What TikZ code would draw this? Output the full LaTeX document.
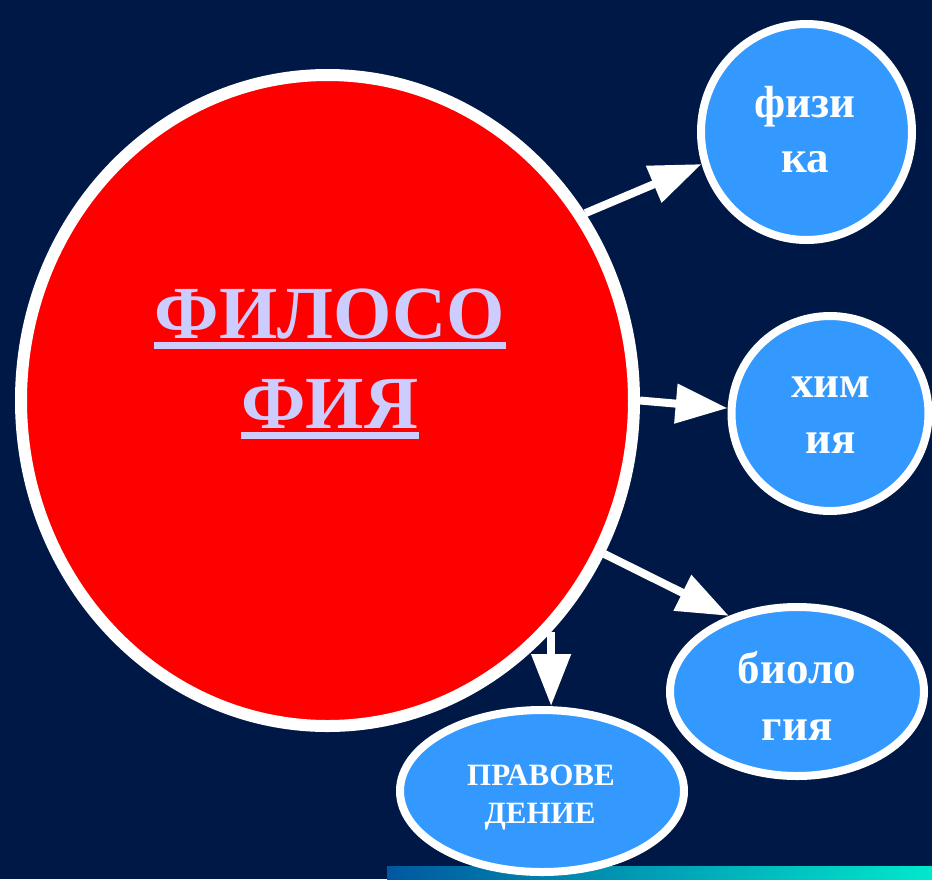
\documentclass[tikz,border=0pt]{standalone}
\usepackage{fontspec}
\setmainfont{Liberation Serif}
\usetikzlibrary{shapes.geometric,arrows.meta}
\definecolor{bg}{RGB}{0,24,69}
\definecolor{redfill}{RGB}{255,0,0}
\definecolor{bluefill}{RGB}{51,153,255}
\definecolor{lav}{RGB}{204,204,255}
\definecolor{barL}{RGB}{0,88,160}
\definecolor{barR}{RGB}{0,232,204}
\newcommand\myul[1]{\setbox0\hbox{#1}\rlap{\hspace{-1pt}\color{lav}\rule[-11pt]{\dimexpr\wd0+2pt}{7pt}}\box0}
\tikzset{
  big/.style={ellipse, fill=redfill, draw=white, line width=12pt, inner sep=0pt, minimum width=613pt, minimum height=651pt},
  small/.style={ellipse, fill=bluefill, draw=white, line width=8pt, inner sep=0pt},
  bigtext/.style={anchor=base, inner sep=0pt, text=lav, font=\fontsize{75}{80}\selectfont\bfseries},
  smalltext/.style={anchor=base, inner sep=0pt, text=white, font=\fontsize{45}{50}\selectfont\bfseries},
  lawtext/.style={anchor=base, inner sep=0pt, text=white, font=\fontsize{31}{34}\selectfont\bfseries},
  arr/.style={draw=white, line width=8pt, -{Triangle[length=52pt,width=38pt]}}
}
\begin{document}
\begin{tikzpicture}[x=1pt,y=-1pt]
\fill[bg] (0,0) rectangle (932,879);
\useasboundingbox (0,0) rectangle (932,879);
\shade[left color=barL, right color=barR] (387,866) rectangle (932,879);
\node[big] (main) at (327.5,400.5) {};
\node[small, minimum width=211pt, minimum height=216pt] (phys) at (806.5,132) {};
\node[small, minimum width=197pt, minimum height=195pt] (chem) at (830,413.5) {};
\node[small, minimum width=254pt, minimum height=169pt] (bio) at (797,691.5) {};
\node[small, minimum width=284pt, minimum height=162pt] (law) at (542,791) {};
\node[bigtext] (t1) at (330,338) {\myul{ФИЛОСО}};
\node[bigtext] (t2) at (330,428) {\myul{ФИЯ}};
\node[smalltext] (p1) at (805,117) {физи};
\node[smalltext] (p2) at (805,172) {ка};
\node[smalltext] (c1) at (831,397) {хим};
\node[smalltext] (c2) at (831,453) {ия};
\node[smalltext] (b1) at (797,683) {биоло};
\node[smalltext] (b2) at (797,740) {гия};
\node[lawtext] (l1) at (541,785) {ПРАВОВЕ};
\node[lawtext] (l2) at (540,823) {ДЕНИЕ};
\draw[arr] (main.36.3) -- (phys.197);
\draw[arr] (main.0.7) -- (chem.177);
\draw[arr] (main.-29.6) -- (bio.132.6);
\draw[arr] (main.-46.5) -- (main.-46.5 |- law.north);
\end{tikzpicture}
\end{document}
